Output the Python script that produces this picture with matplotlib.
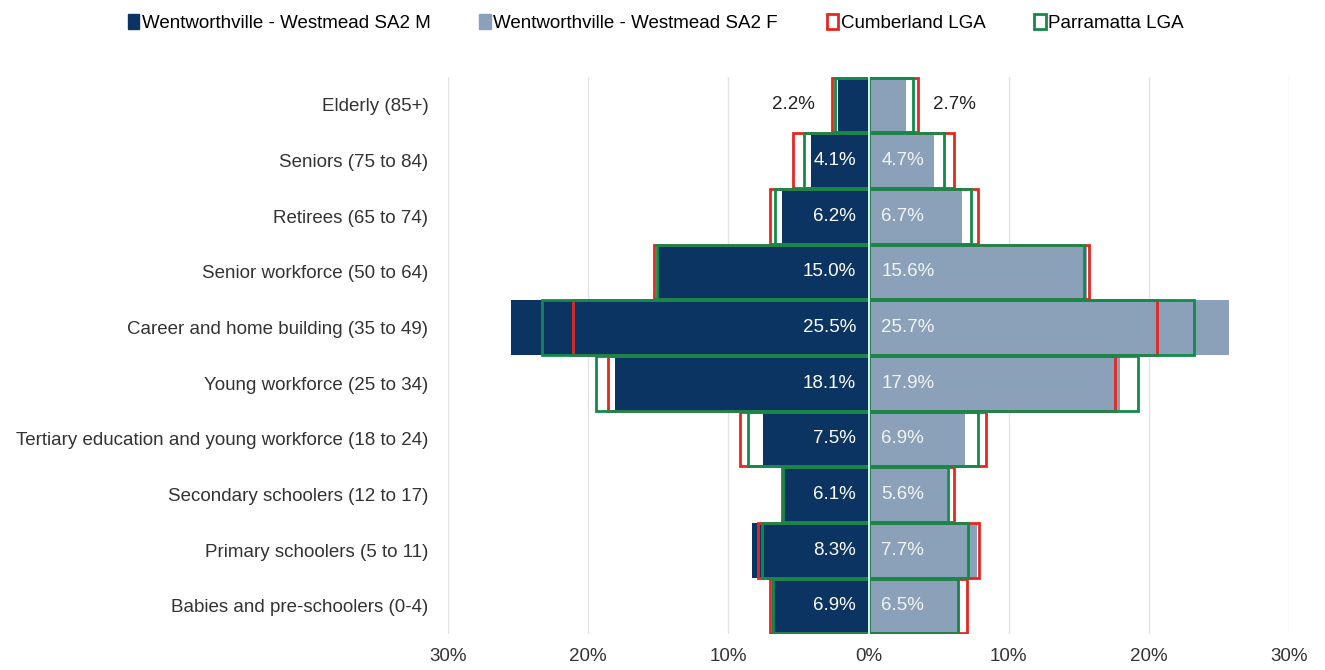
import numpy as np
import matplotlib
matplotlib.use('Agg')
import matplotlib.pyplot as plt
from matplotlib.patches import Patch

plt.rcParams['font.family'] = ['Liberation Sans', 'DejaVu Sans']

# Age groups, oldest at the top
categories = [
    'Elderly (85+)',
    'Seniors (75 to 84)',
    'Retirees (65 to 74)',
    'Senior workforce (50 to 64)',
    'Career and home building (35 to 49)',
    'Young workforce (25 to 34)',
    'Tertiary education and young workforce (18 to 24)',
    'Secondary schoolers (12 to 17)',
    'Primary schoolers (5 to 11)',
    'Babies and pre-schoolers (0-4)',
]
sa2_male = [2.2, 4.1, 6.2, 15.0, 25.5, 18.1, 7.5, 6.1, 8.3, 6.9]
sa2_female = [2.7, 4.7, 6.7, 15.6, 25.7, 17.9, 6.9, 5.6, 7.7, 6.5]
cumberland_male = [2.6, 5.4, 7.0, 15.3, 21.1, 18.6, 9.2, 6.2, 7.9, 7.0]
cumberland_female = [3.5, 6.1, 7.8, 15.7, 20.6, 17.6, 8.4, 6.1, 7.9, 7.0]
parramatta_male = [2.4, 4.6, 6.7, 15.1, 23.3, 19.4, 8.6, 6.1, 7.6, 6.8]
parramatta_female = [3.2, 5.4, 7.3, 15.4, 23.2, 19.2, 7.8, 5.7, 7.1, 6.4]
x_ticks = [-30, -20, -10, 0, 10, 20, 30]

NAVY = '#0b3462'
GREY_BLUE = '#8ba1b9'
RED = '#e5281d'
GREEN = '#138a4c'
FS = 13.5

fig = plt.figure(figsize=(13.25, 6.70), dpi=100)
ax = fig.add_axes([0.338, 0.054, 0.635, 0.831])

y = np.arange(len(categories))
h = 0.98

ax.barh(y, -np.array(sa2_male), height=h, color=NAVY, zorder=2)
ax.barh(y, sa2_female, height=h, color=GREY_BLUE, zorder=2)

# LGA comparison outlines
for vals, col, z in [(cumberland_male, RED, 3), (parramatta_male, GREEN, 4)]:
    ax.barh(y, -np.array(vals), height=h, fill=False, edgecolor=col, linewidth=2, zorder=z)
for vals, col, z in [(cumberland_female, RED, 3), (parramatta_female, GREEN, 4)]:
    ax.barh(y, vals, height=h, fill=False, edgecolor=col, linewidth=2, zorder=z)

ax.axvline(0, color='white', linewidth=1.2, zorder=5)

# value labels: inside near the axis, outside for very small bars
for i in range(len(categories)):
    m, f = sa2_male[i], sa2_female[i]
    if m < 3:
        xm = -max(m, cumberland_male[i], parramatta_male[i]) - 1.2
        ax.text(xm, y[i], f'{m:.1f}%', ha='right', va='center', fontsize=FS, color='#222222', zorder=6)
    else:
        ax.text(-0.9, y[i], f'{m:.1f}%', ha='right', va='center', fontsize=FS, color='white', zorder=6)
    if f < 3:
        xf = max(f, cumberland_female[i], parramatta_female[i]) + 1.1
        ax.text(xf, y[i], f'{f:.1f}%', ha='left', va='center', fontsize=FS, color='#222222', zorder=6)
    else:
        ax.text(0.9, y[i], f'{f:.1f}%', ha='left', va='center', fontsize=FS, color='#f2f4f7', zorder=6)

ax.set_xlim(-30, 30)
ax.set_ylim(len(categories) - 0.5, -0.5)
ax.set_xticks(x_ticks)
ax.set_xticklabels([f'{abs(t)}%' for t in x_ticks], fontsize=FS, color='#333333')
ax.set_yticks(y)
ax.set_yticklabels(categories, fontsize=FS, color='#333333')
ax.tick_params(axis='both', length=0)
ax.tick_params(axis='y', pad=14)
ax.tick_params(axis='x', pad=10)
ax.grid(axis='x', color='#e3e3e3', linewidth=1, zorder=0)
ax.set_axisbelow(True)
for s in ax.spines.values():
    s.set_visible(False)

handles = [
    Patch(facecolor=NAVY, edgecolor=NAVY, label='Wentworthville - Westmead SA2 M'),
    Patch(facecolor=GREY_BLUE, edgecolor=GREY_BLUE, label='Wentworthville - Westmead SA2 F'),
    Patch(facecolor='white', edgecolor=RED, linewidth=2, label='Cumberland LGA'),
    Patch(facecolor='white', edgecolor=GREEN, linewidth=2, label='Parramatta LGA'),
]
fig.legend(handles=handles, loc='upper center', bbox_to_anchor=(0.495, 1.005), ncol=4,
           frameon=False, fontsize=FS, handlelength=0.6, handleheight=0.9,
           handletextpad=0.15, columnspacing=2.6)

fig.savefig('out.png', dpi=100, facecolor='white')
